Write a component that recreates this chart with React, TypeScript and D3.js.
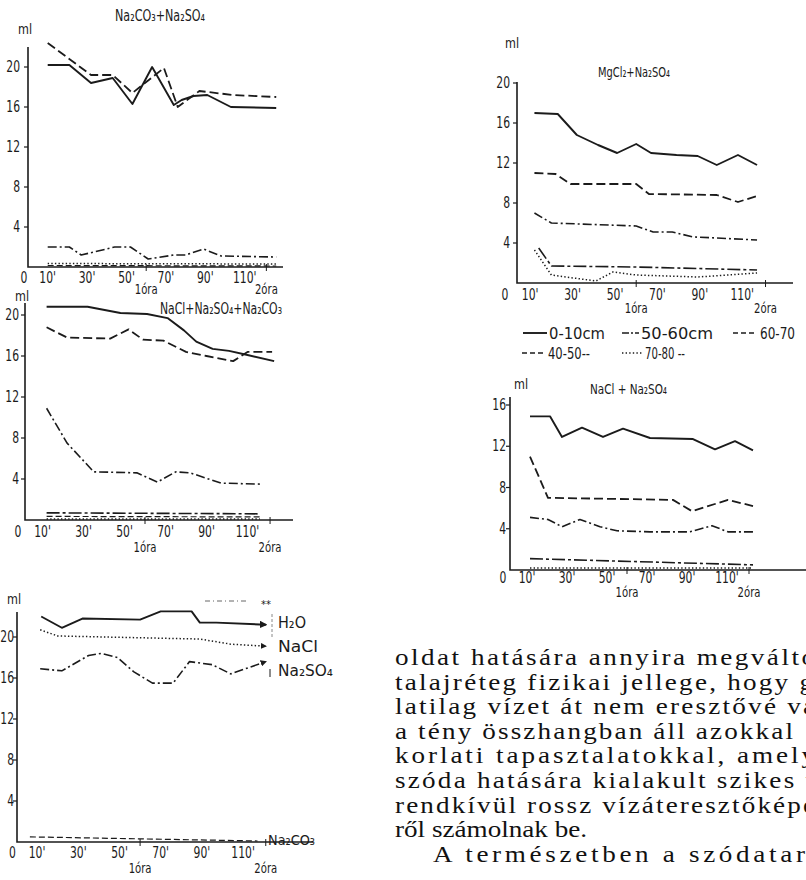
import React from "react";
import * as d3 from "d3";

type Pt = [number, number]; // [minutes, ml]

// ---------- Panel 1: Na2CO3 + Na2SO4 ----------
const p1Solid: Pt[] = [[10,20.2],[21,20.2],[32,18.4],[43,18.9],[53,16.3],[63,20.0],[74,16.2],[78,16.7],[84,17.1],[91,17.2],[103,16.0],[126,15.9]];
const p1Dash: Pt[] = [[10,22.4],[32,19.2],[43,19.2],[53,17.4],[69,19.9],[76,16.0],[87,17.6],[104,17.2],[126,17.0]];
const p1DashDot: Pt[] = [[10,2.0],[21,2.0],[27,1.2],[44,2.0],[52,2.0],[61,0.8],[74,1.2],[80,1.2],[89,1.8],[98,1.1],[126,1.0]];
const p1Dot: Pt[] = [[10,0.35],[126,0.3]];
const p1Low: Pt[] = [[10,0.15],[126,0.1]];

// ---------- Panel 2: NaCl + Na2SO4 + Na2CO3 ----------
const p2Solid: Pt[] = [[12,20.8],[32,20.8],[48,20.2],[61,20.1],[71,19.7],[79,18.5],[85,17.4],[93,16.7],[101,16.5],[110,16.1],[123,15.5]];
const p2Dash: Pt[] = [[12,18.8],[22,17.8],[43,17.7],[52,18.6],[59,17.6],[69,17.5],[80,16.4],[90,16.0],[103,15.5],[110,16.4],[122,16.4]];
const p2DashDot: Pt[] = [[12,10.9],[22,7.5],[35,4.7],[56,4.6],[66,3.7],[75,4.7],[82,4.6],[97,3.6],[116,3.5]];
const p2Low1: Pt[] = [[12,0.7],[116,0.6]];
const p2Low2: Pt[] = [[12,0.35],[116,0.3]];
const p2Dot: Pt[] = [[12,0.1],[116,0.1]];

// ---------- Panel 3: single salts ----------
const p3H2O: Pt[] = [[12,22.0],[22,20.9],[32,21.8],[60,21.7],[70,22.5],[85,22.5],[89,21.4],[97,21.4],[121,21.2]];
const p3NaCl: Pt[] = [[11.5,20.7],[20,20.1],[89,19.8],[104,19.3],[121,19.1]];
const p3Na2SO4: Pt[] = [[11.5,16.9],[22,16.7],[35,18.2],[41,18.4],[49,18.0],[57,16.6],[66,15.5],[76,15.5],[84,17.6],[95,17.3],[104,16.4],[121,17.6]];
const p3Na2CO3: Pt[] = [[6.5,0.5],[117,0.1]];
const p3Labels = ["H₂O", "NaCl", "Na₂SO₄", "Na₂CO₃"];

// ---------- Panel 4: MgCl2 + Na2SO4 ----------
const p4_0_10: Pt[] = [[12,17.0],[23,16.9],[32,14.8],[42,13.8],[51,13.0],[60,13.9],[67,13.0],[79,12.8],[89,12.7],[98,11.8],[108,12.8],[117,11.8]];
const p4_40_50: Pt[] = [[12,11.0],[22,10.9],[29,9.9],[60,9.9],[66,8.9],[98,8.8],[108,8.1],[117,8.7]];
const p4_50_60: Pt[] = [[12,7.0],[20,6.0],[60,5.7],[68,5.1],[77,5.1],[87,4.6],[98,4.5],[117,4.3]];
const p4_60_70: Pt[] = [[14,3.5],[20,1.7],[60,1.6],[117,1.3]];
const p4_70_80: Pt[] = [[12,3.3],[20,0.8],[41,0.2],[49,1.1],[60,0.8],[89,0.6],[117,1.0]];

// ---------- Panel 5: NaCl + Na2SO4 ----------
const p5_0_10: Pt[] = [[11.5,14.9],[21.5,14.9],[27.5,12.9],[37.5,13.8],[48,12.9],[58,13.7],[71.5,12.8],[93,12.7],[104,11.7],[114,12.5],[123,11.6]];
const p5_40_50: Pt[] = [[11.5,11.0],[20.5,7.0],[83,6.8],[92.5,5.7],[110.5,6.8],[123,6.2]];
const p5_50_60: Pt[] = [[11.5,5.1],[20.5,4.9],[27.5,4.2],[36.5,4.9],[46.5,4.2],[55,3.8],[71.5,3.7],[91.5,3.7],[102.5,4.3],[110.5,3.7],[123,3.7]];
const p5_60_70: Pt[] = [[11.5,1.1],[123,0.5]];
const p5_70_80: Pt[] = [[11.5,0.2],[123,0.2]];

// ---------- Ticks, titles, legend ----------
const xTickValues = [10, 30, 50, 70, 90, 110];
const yTicks20 = [4, 8, 12, 16, 20];
const yTicks16 = [4, 8, 12, 16];
const hourTicks: [number, string][] = [[60, "1óra"], [121, "2óra"]];
const titles = ["Na₂CO₃+Na₂SO₄", "NaCl+Na₂SO₄+Na₂CO₃", "MgCl₂+Na₂SO₄", "NaCl + Na₂SO₄"];
const legendLabels = ["0-10cm", "50-60cm", "60-70", "40-50--", "70-80 --"];

const bodyLines = [
  "oldat hatására annyira megválto",
  "talajréteg fizikai jellege, hogy g",
  "latilag vízet át nem eresztővé vá",
  "a tény összhangban áll azokkal",
  "korlati  tapasztalatokkal,  amely",
  "szóda hatására kialakult szikes t",
  "rendkívül rossz vízáteresztőképe",
  "ről számolnak be.",
  "A természetben a szódatar",
];

const INK = "#1b1b1b";
const SANS = "'DejaVu Sans', 'Noto Sans', sans-serif";
const SERIF = "'Liberation Serif', 'DejaVu Serif', serif";

const STYLE = {
  solid: { dash: "none", w: 1.9 },
  dash: { dash: "9,4", w: 1.8 },
  dashDot: { dash: "9,3,2,3", w: 1.6 },
  dashDot2: { dash: "13,3,3,3", w: 1.6 },
  dot: { dash: "1.4,2.2", w: 1.5 },
  lowDash: { dash: "6,3", w: 1.2 },
};

type Sc = d3.ScaleLinear<number, number>;

function Series({ data, x, y, st, marker }: { data: Pt[]; x: Sc; y: Sc; st: { dash: string; w: number }; marker?: boolean }) {
  const line = d3.line<Pt>().x((d) => x(d[0])).y((d) => y(d[1]));
  return (
    <path
      d={line(data) || ""}
      fill="none"
      stroke={INK}
      strokeWidth={st.w}
      strokeDasharray={st.dash === "none" ? undefined : st.dash}
      strokeLinejoin="round"
      markerEnd={marker ? "url(#arrow)" : undefined}
    />
  );
}

function CText({ x, y, children, size = 15, sx = 0.72, anchor = "start" }: any) {
  return (
    <text
      transform={`translate(${x},${y}) scale(${sx},1)`}
      fontSize={size}
      fontFamily={SANS}
      textAnchor={anchor}
      fill={INK}
    >
      {children}
    </text>
  );
}

function FitText({ x, y, w, size, children, family = SANS }: any) {
  return (
    <text x={x} y={y} fontSize={size} fontFamily={family} textLength={w} lengthAdjust="spacingAndGlyphs" fill={INK}>
      {children}
    </text>
  );
}

function Axes({ x, y, axisX, axisBottom, axisTop, axisRight, yTicks, yLabelRight, xLabelBase, hourBase, ml }: any) {
  return (
    <g>
      <path d={`M${axisX},${axisTop}V${axisBottom}H${axisRight}`} fill="none" stroke={INK} strokeWidth={1.6} />
      {yTicks.map((v: number) => (
        <g key={v}>
          <line x1={axisX - 4} x2={axisX} y1={y(v)} y2={y(v)} stroke={INK} strokeWidth={1.2} />
          <CText x={yLabelRight} y={y(v) + 5} anchor="end">{v}</CText>
        </g>
      ))}
      <CText x={x(0) - 4} y={xLabelBase} anchor="middle">0</CText>
      {xTickValues.map((v) => (
        <CText key={v} x={x(v)} y={xLabelBase} anchor="middle">{`${v}'`}</CText>
      ))}
      {hourTicks.map(([t, label]) => (
        <g key={label}>
          <line x1={x(t)} x2={x(t)} y1={axisBottom - 3} y2={axisBottom + 4} stroke={INK} strokeWidth={1} />
          <CText x={x(t)} y={hourBase} anchor="middle" size={14}>{label}</CText>
        </g>
      ))}
      <CText x={ml[0]} y={ml[1]} anchor="middle" size={14} sx={0.8}>ml</CText>
    </g>
  );
}

export default function App() {
  // Panel scales (minutes -> px, ml -> px)
  const x1 = d3.scaleLinear().domain([0, 130]).range([28, 28 + 1.97 * 130]);
  const y1 = d3.scaleLinear().domain([0, 20]).range([267, 67]);
  const x2 = d3.scaleLinear().domain([0, 130]).range([22, 22 + 2.05 * 130]);
  const y2 = d3.scaleLinear().domain([0, 20]).range([520, 315]);
  const x3 = d3.scaleLinear().domain([0, 130]).range([16.5, 16.5 + 2.06 * 130]);
  const y3 = d3.scaleLinear().domain([0, 20]).range([842, 637]);
  const x4 = d3.scaleLinear().domain([0, 130]).range([509, 509 + 2.12 * 130]);
  const y4 = d3.scaleLinear().domain([0, 20]).range([283, 83]);
  const x5 = d3.scaleLinear().domain([0, 130]).range([507, 507 + 2.0 * 130]);
  const y5 = d3.scaleLinear().domain([0, 16]).range([570, 405]);

  const legendSample = (x0: number, x1_: number, yy: number, st: { dash: string; w: number }) => (
    <line x1={x0} x2={x1_} y1={yy} y2={yy} stroke={INK} strokeWidth={st.w} strokeDasharray={st.dash === "none" ? undefined : st.dash} />
  );

  const bodyX = 395;
  const SX = 1.18; // widen the Times-like face toward Computer Modern proportions
  const bodyWidths: (number | undefined)[] = [420, 418, 420, 398, 420, 418, 420, undefined, 372];

  return (
    <svg width={806} height={880} style={{ position: "absolute", left: 0, top: 0, background: "#fff" }}>
      <defs>
        <marker id="arrow" viewBox="0 0 10 10" refX="8" refY="5" markerWidth="4" markerHeight="4" orient="auto">
          <path d="M0,0L10,5L0,10z" fill={INK} />
        </marker>
      </defs>
      <rect width={806} height={880} fill="#fff" />

      {/* Panel 1 */}
      <g>
        <FitText x={115} y={21} w={90} size={15}>{titles[0]}</FitText>
        <Axes x={x1} y={y1} axisX={28} axisBottom={267} axisTop={47} axisRight={283} yTicks={yTicks20}
          yLabelRight={20} xLabelBase={283} hourBase={294} ml={[25, 34]} />
        <Series data={p1Solid} x={x1} y={y1} st={STYLE.solid} />
        <Series data={p1Dash} x={x1} y={y1} st={STYLE.dash} />
        <Series data={p1DashDot} x={x1} y={y1} st={STYLE.dashDot} />
        <Series data={p1Dot} x={x1} y={y1} st={STYLE.dot} />
        <Series data={p1Low} x={x1} y={y1} st={STYLE.lowDash} />
      </g>

      {/* Panel 2 */}
      <g>
        <FitText x={160} y={314} w={122} size={15}>{titles[1]}</FitText>
        <Axes x={x2} y={y2} axisX={25} axisBottom={520} axisTop={303} axisRight={293} yTicks={yTicks20}
          yLabelRight={19} xLabelBase={537} hourBase={552} ml={[22, 301]} />
        <Series data={p2Solid} x={x2} y={y2} st={STYLE.solid} />
        <Series data={p2Dash} x={x2} y={y2} st={STYLE.dash} />
        <Series data={p2DashDot} x={x2} y={y2} st={STYLE.dashDot} />
        <Series data={p2Low1} x={x2} y={y2} st={STYLE.dashDot2} />
        <Series data={p2Low2} x={x2} y={y2} st={STYLE.lowDash} />
        <Series data={p2Dot} x={x2} y={y2} st={STYLE.dot} />
      </g>

      {/* Panel 3 */}
      <g>
        <Axes x={x3} y={y3} axisX={17} axisBottom={842} axisTop={612} axisRight={313} yTicks={yTicks20}
          yLabelRight={14} xLabelBase={858} hourBase={873} ml={[14, 604]} />
        <Series data={p3H2O} x={x3} y={y3} st={STYLE.solid} marker />
        <Series data={p3NaCl} x={x3} y={y3} st={STYLE.dot} marker />
        <Series data={p3Na2SO4} x={x3} y={y3} st={STYLE.dashDot} marker />
        <Series data={p3Na2CO3} x={x3} y={y3} st={STYLE.lowDash} />
        <line x1={205} x2={246} y1={601} y2={601} stroke="#666" strokeWidth={1} strokeDasharray="5,3,1,3" />
        <text x={261} y={608} fontSize={10} fontFamily={SANS} fill={INK}>**</text>
        <line x1={272} x2={272} y1={614} y2={637} stroke="#888" strokeWidth={1} strokeDasharray="3,2" />
        <line x1={270} x2={270} y1={669} y2={677} stroke={INK} strokeWidth={1} />
        <FitText x={278} y={628} w={28} size={15}>{p3Labels[0]}</FitText>
        <FitText x={278} y={652} w={40} size={15}>{p3Labels[1]}</FitText>
        <FitText x={278} y={676} w={55} size={15}>{p3Labels[2]}</FitText>
        <FitText x={268} y={845} w={47} size={14}>{p3Labels[3]}</FitText>
      </g>

      {/* Panel 4 */}
      <g>
        <FitText x={598} y={77} w={72} size={14}>{titles[2]}</FitText>
        <Axes x={x4} y={y4} axisX={517} axisBottom={283} axisTop={82} axisRight={793} yTicks={yTicks20}
          yLabelRight={510} xLabelBase={300} hourBase={313} ml={[512, 48]} />
        <Series data={p4_0_10} x={x4} y={y4} st={STYLE.solid} />
        <Series data={p4_40_50} x={x4} y={y4} st={STYLE.dash} />
        <Series data={p4_50_60} x={x4} y={y4} st={STYLE.dashDot} />
        <Series data={p4_60_70} x={x4} y={y4} st={STYLE.dashDot2} />
        <Series data={p4_70_80} x={x4} y={y4} st={STYLE.dot} />
      </g>

      {/* Legend */}
      <g>
        {legendSample(523, 547, 333, STYLE.solid)}
        <FitText x={549} y={339} w={56} size={16}>{legendLabels[0]}</FitText>
        {legendSample(622, 639, 333, { dash: "7,2,2,2", w: 1.5 })}
        <FitText x={641} y={339} w={72} size={16}>{legendLabels[1]}</FitText>
        {legendSample(733, 757, 333, { dash: "5,3", w: 1.5 })}
        <FitText x={760} y={339} w={35} size={16}>{legendLabels[2]}</FitText>
        {legendSample(522, 546, 353, { dash: "5,3", w: 1.5 })}
        <FitText x={548} y={359} w={42} size={16}>{legendLabels[3]}</FitText>
        {legendSample(622, 643, 353, STYLE.dot)}
        <FitText x={645} y={359} w={40} size={16}>{legendLabels[4]}</FitText>
      </g>

      {/* Panel 5 */}
      <g>
        <FitText x={590} y={394} w={77} size={14}>{titles[3]}</FitText>
        <Axes x={x5} y={y5} axisX={510} axisBottom={570} axisTop={397} axisRight={806} yTicks={yTicks16}
          yLabelRight={506} xLabelBase={583} hourBase={597} ml={[521, 389]} />
        <Series data={p5_0_10} x={x5} y={y5} st={STYLE.solid} />
        <Series data={p5_40_50} x={x5} y={y5} st={STYLE.dash} />
        <Series data={p5_50_60} x={x5} y={y5} st={STYLE.dashDot} />
        <Series data={p5_60_70} x={x5} y={y5} st={STYLE.dashDot2} />
        <Series data={p5_70_80} x={x5} y={y5} st={STYLE.dot} />
      </g>

      {/* Body text */}
      <g>
        {bodyLines.map((s, i) => {
          const isLast = i === bodyLines.length - 1;
          const x0 = isLast ? bodyX + 38 : bodyX;
          const w = bodyWidths[i];
          return (
            <text key={i} transform={`translate(${x0},${665 + i * 24.6}) scale(${SX},1)`} fontSize={23}
              fontFamily={SERIF} fill="#111"
              textLength={w ? w / SX : undefined} lengthAdjust={w ? "spacing" : undefined}>
              {s}
            </text>
          );
        })}
      </g>
    </svg>
  );
}
